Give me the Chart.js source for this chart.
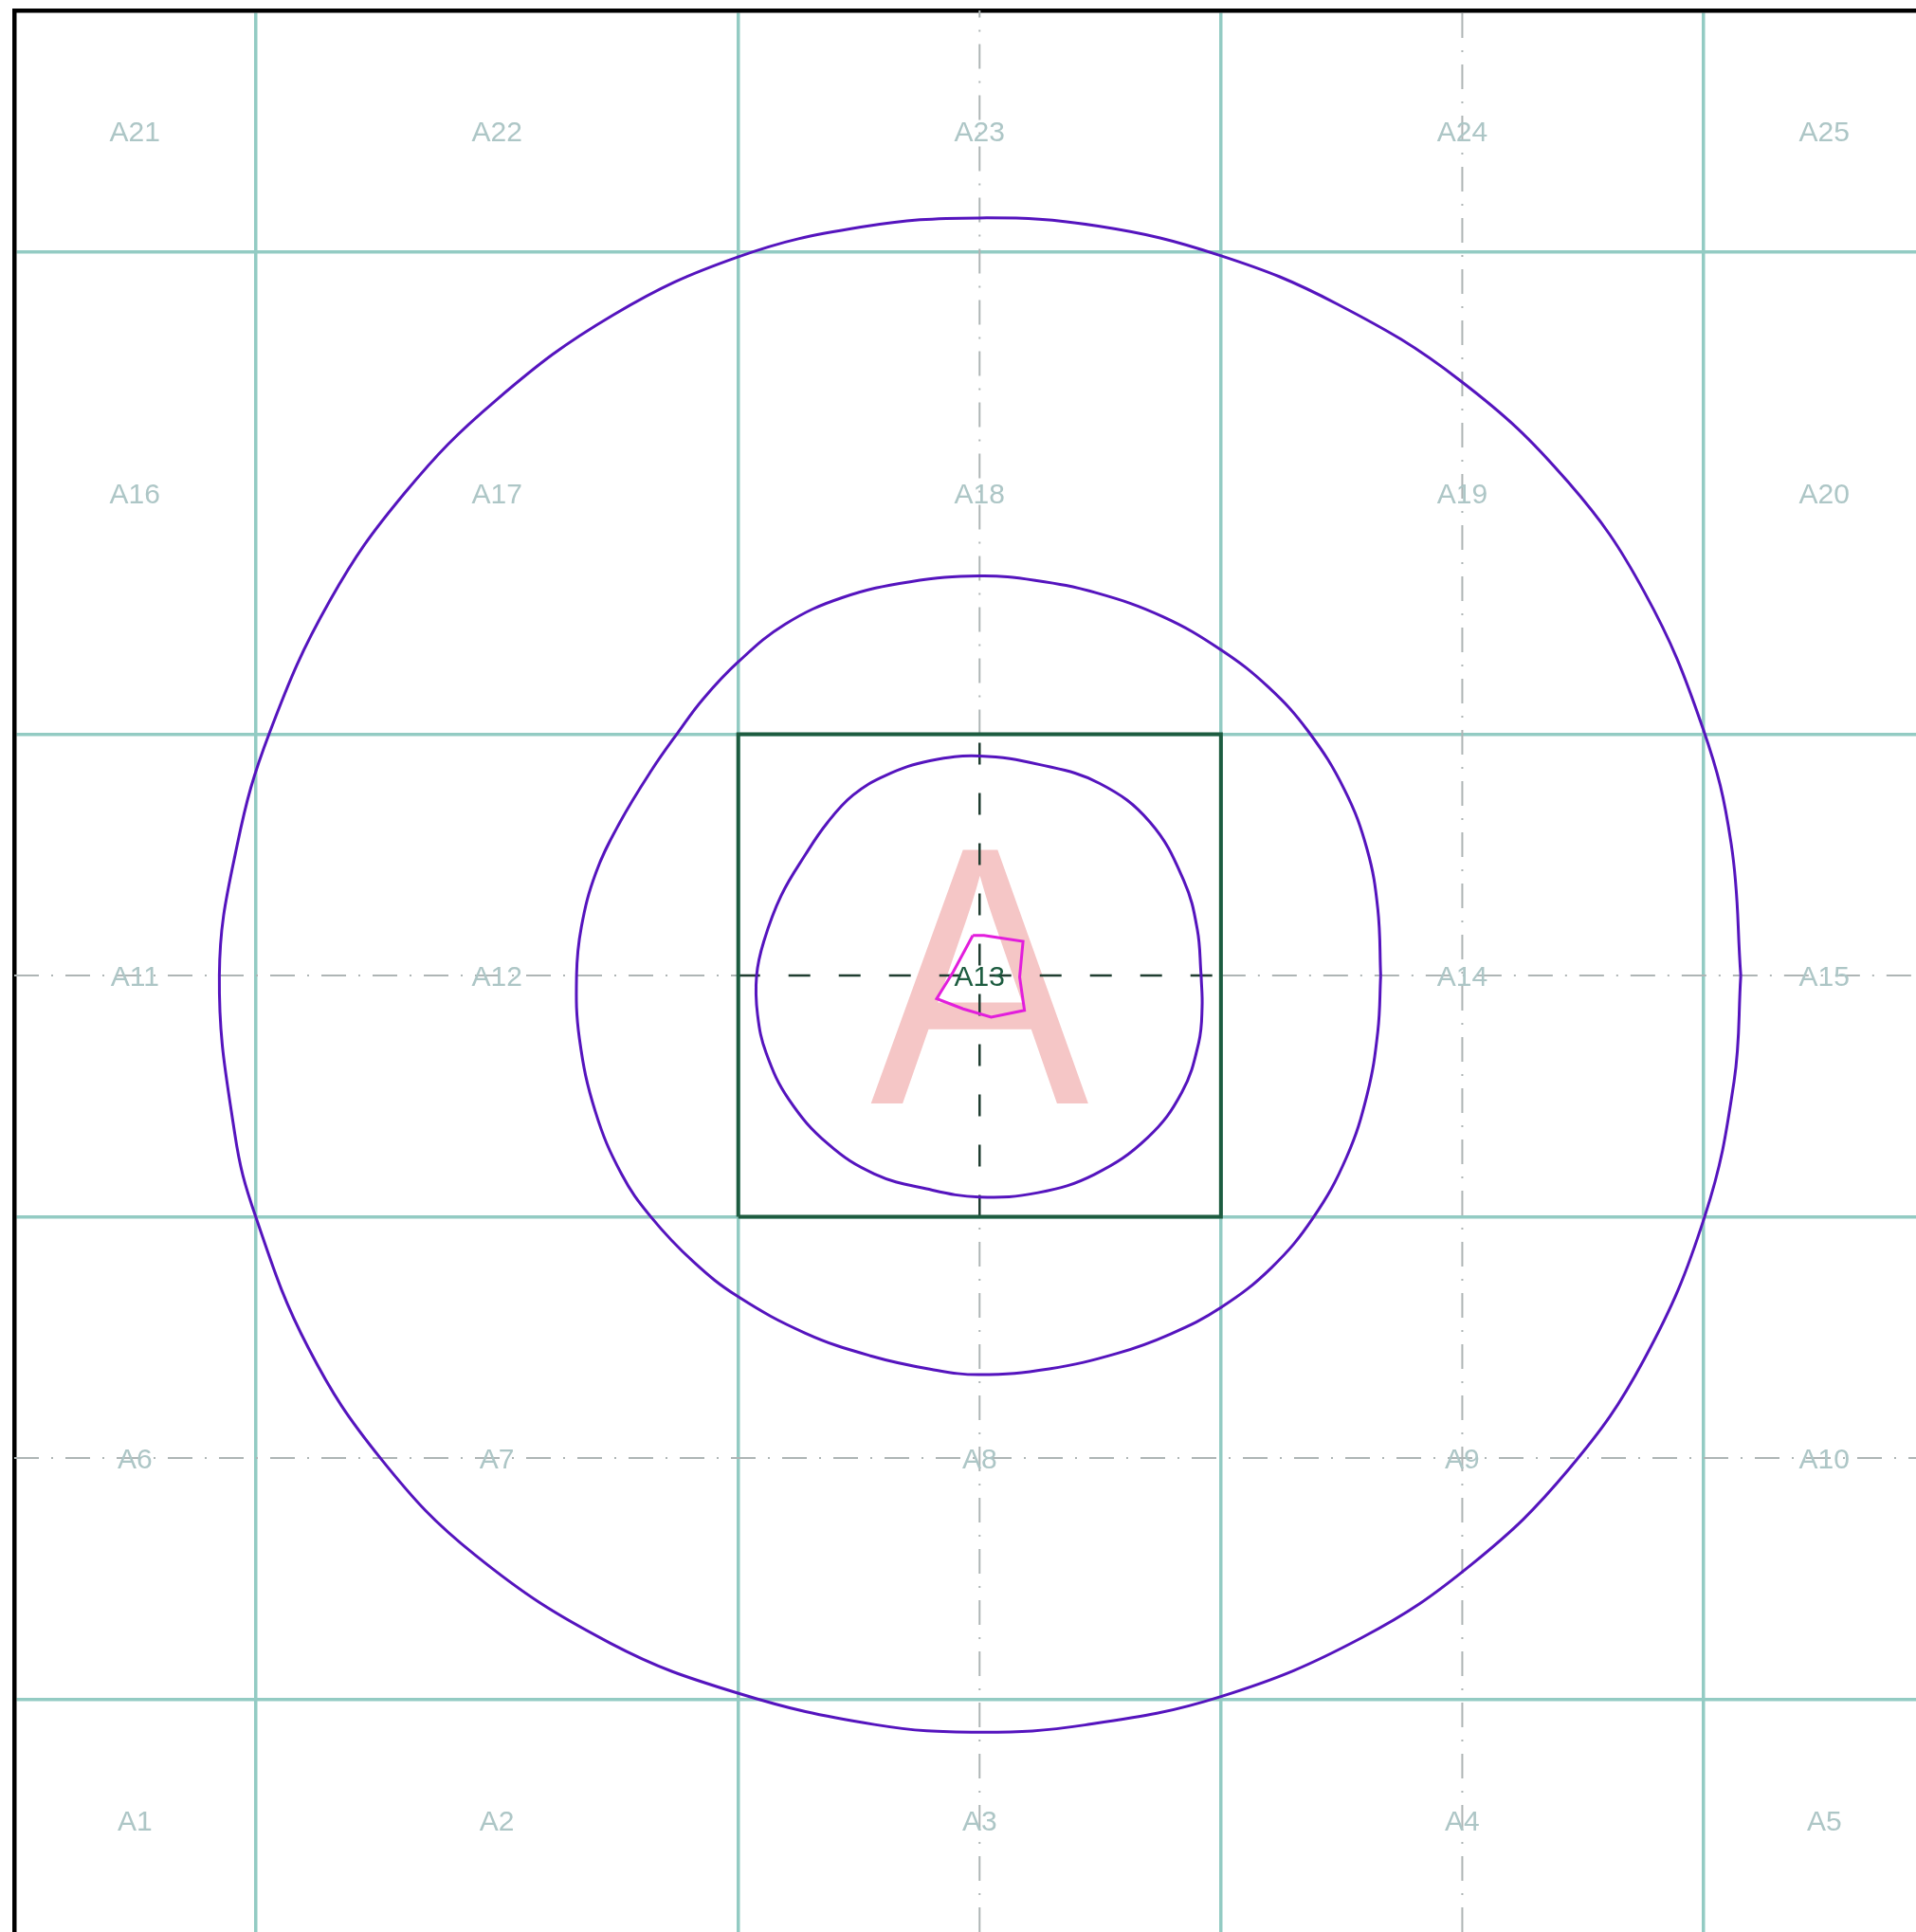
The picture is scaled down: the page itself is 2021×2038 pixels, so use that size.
<!DOCTYPE html>
<html>
<head>
<meta charset="utf-8">
<script src="https://cdn.jsdelivr.net/npm/chart.js@4.4.1/dist/chart.umd.min.js"></script>
<style>
  html, body { margin: 0; padding: 0; background: #fff; overflow: hidden; }
  #wrap { width: 2021px; height: 2038px; }
</style>
</head>
<body>
<div id="wrap"><canvas id="plan" width="2021" height="2038"></canvas></div>
<script>
// axis window (one unit = one cell), grid lines and dashed centre lines
const xRange = [-2.0, 1.94];
const yRange = [-1.982, 2.0];
const gridLines = [-1.5, -0.5, 0.5, 1.5];
const dashedCols = [0, 1];
const dashedRows = [0, -1];
const centreCell = [-0.5, 0.5];

// cell label positions, bottom row first
const labelCols = [-1.75, -1, 0, 1, 1.75];
const labelRows = [-1.75, -1, 0, 1, 1.75];
const highlightCell = 'A13';

// the big letter
const letterText = 'A';
const letterX = 0;
const letterBase = -0.265;
const letterTop = 0.262;
const letterWidth = 0.456;

// contours, going round anticlockwise from the right
const outerContour = [
  [1.577, 0], [1.557, 0.274], [1.499, 0.511], [1.377, 0.795], [1.219, 1.023],
  [0.997, 1.232], [0.740, 1.392], [0.499, 1.492], [0.246, 1.553], [0, 1.570],
  [-0.246, 1.551], [-0.501, 1.489], [-0.759, 1.369], [-1.001, 1.193], [-1.191, 1.000],
  [-1.346, 0.777], [-1.470, 0.506], [-1.538, 0.271], [-1.575, 0],
  [-1.543, -0.328], [-1.500, -0.499], [-1.391, -0.771], [-1.239, -1.003], [-1.045, -1.201],
  [-0.766, -1.383], [-0.501, -1.487], [-0.218, -1.552], [0, -1.568],
  [0.218, -1.553], [0.500, -1.494], [0.792, -1.372], [1.022, -1.218], [1.220, -1.024],
  [1.377, -0.795], [1.502, -0.500], [1.563, -0.220], [1.577, 0]
];
const middleContour = [
  [0.831, 0], [0.825, 0.138], [0.803, 0.261], [0.756, 0.385], [0.681, 0.506],
  [0.598, 0.598], [0.500, 0.675], [0.379, 0.744], [0.242, 0.793], [0.115, 0.819],
  [0, 0.828], [-0.144, 0.816], [-0.285, 0.783], [-0.403, 0.728], [-0.500, 0.650],
  [-0.573, 0.573], [-0.624, 0.505], [-0.680, 0.425], [-0.746, 0.316], [-0.795, 0.213],
  [-0.825, 0.101], [-0.835, 0], [-0.829, -0.131], [-0.796, -0.282], [-0.742, -0.411],
  [-0.681, -0.500], [-0.593, -0.593], [-0.501, -0.665], [-0.361, -0.741], [-0.226, -0.788],
  [-0.100, -0.816], [0, -0.827], [0.144, -0.815], [0.285, -0.783], [0.395, -0.743],
  [0.500, -0.688], [0.605, -0.605], [0.691, -0.502], [0.760, -0.377], [0.803, -0.246],
  [0.825, -0.116], [0.831, 0]
];
const innerContour = [
  [0.459, 0], [0.451, 0.096], [0.423, 0.197], [0.353, 0.318], [0.249, 0.398],
  [0.125, 0.437], [0, 0.455], [-0.103, 0.445], [-0.194, 0.415], [-0.262, 0.374],
  [-0.316, 0.316], [-0.360, 0.252], [-0.411, 0.166], [-0.447, 0.071], [-0.462, 0],
  [-0.460, -0.081], [-0.442, -0.161], [-0.395, -0.257], [-0.314, -0.349], [-0.218, -0.411],
  [-0.110, -0.442], [0, -0.459], [0.121, -0.450], [0.238, -0.412], [0.348, -0.336],
  [0.419, -0.242], [0.454, -0.139], [0.461, -0.065], [0.459, 0]
];
const peakOutline = [
  [-0.014, 0.083], [0.009, 0.083], [0.090, 0.071], [0.083, -0.003], [0.093, -0.072],
  [0.024, -0.086], [-0.034, -0.069], [-0.089, -0.048], [-0.055, 0.007], [-0.014, 0.083]
];

const toPts = arr => arr.map(([px, py]) => ({ x: px, y: py }));

const lineSet = (pts, color, width, extra) => Object.assign({
  data: pts,
  borderColor: color,
  borderWidth: width,
  pointRadius: 0,
  pointHoverRadius: 0,
  fill: false,
  tension: 0
}, extra || {});

// dashed centre lines, dark inside the centre cell, grey elsewhere
const greyDash = [];
const darkDash = [];
const [c0, c1] = centreCell;
dashedCols.forEach(c => {
  if (c > c0 && c < c1) {
    greyDash.push([{ x: c, y: yRange[0] }, { x: c, y: c0 }]);
    greyDash.push([{ x: c, y: c1 }, { x: c, y: yRange[1] }]);
    darkDash.push([{ x: c, y: c0 }, { x: c, y: c1 }]);
  } else {
    greyDash.push([{ x: c, y: yRange[0] }, { x: c, y: yRange[1] }]);
  }
});
dashedRows.forEach(r => {
  if (r > c0 && r < c1) {
    greyDash.push([{ x: xRange[0], y: r }, { x: c0, y: r }]);
    greyDash.push([{ x: c1, y: r }, { x: xRange[1], y: r }]);
    darkDash.push([{ x: c0, y: r }, { x: c1, y: r }]);
  } else {
    greyDash.push([{ x: xRange[0], y: r }, { x: xRange[1], y: r }]);
  }
});

const square = [[c0, c0], [c1, c0], [c1, c1], [c0, c1], [c0, c0]];

// top-most first: Chart.js paints the first dataset last
const datasets = [
  lineSet(toPts(peakOutline), '#e21edc', 3),
  lineSet(toPts(innerContour), '#5514be', 3, { tension: 0.4 }),
  lineSet(toPts(middleContour), '#5514be', 3, { tension: 0.4 }),
  lineSet(toPts(outerContour), '#5514be', 3, { tension: 0.4 }),
  lineSet(toPts(square), '#1d5c40', 4),
  ...darkDash.map(seg => lineSet(seg, '#1f3d30', 2.5, { borderDash: [23, 30] })),
  ...greyDash.map(seg => lineSet(seg, '#aeb5b5', 2, { borderDash: [26, 13, 2, 13] }))
];

const bigLetter = {
  id: 'bigLetter',
  beforeDatasetsDraw(chart) {
    const { ctx, scales: { x, y } } = chart;
    const base = y.getPixelForValue(letterBase);
    const top = y.getPixelForValue(letterTop);
    ctx.save();
    ctx.font = '100px "Liberation Sans", Arial, sans-serif';
    let m = ctx.measureText(letterText);
    const size = 100 * (base - top) / m.actualBoundingBoxAscent;
    ctx.font = size + 'px "Liberation Sans", Arial, sans-serif';
    m = ctx.measureText(letterText);
    const inkW = m.actualBoundingBoxLeft + m.actualBoundingBoxRight;
    const want = x.getPixelForValue(letterWidth) - x.getPixelForValue(0);
    ctx.translate(x.getPixelForValue(letterX), base);
    ctx.scale(want / inkW, 1);
    ctx.textAlign = 'center';
    ctx.textBaseline = 'alphabetic';
    ctx.fillStyle = '#f5c6c6';
    ctx.fillText(letterText, 0, 0);
    ctx.restore();
  }
};

const cellLabels = {
  id: 'cellLabels',
  afterDatasetsDraw(chart) {
    const { ctx, scales: { x, y } } = chart;
    ctx.save();
    ctx.font = '30px "Liberation Sans", Arial, sans-serif';
    ctx.textAlign = 'center';
    ctx.textBaseline = 'alphabetic';
    labelRows.forEach((rv, r) => {
      labelCols.forEach((cv, c) => {
        const name = 'A' + (r * labelCols.length + c + 1);
        ctx.fillStyle = name === highlightCell ? '#1d5c40' : '#adc6c6';
        ctx.fillText(name, x.getPixelForValue(cv), y.getPixelForValue(rv) + 10.7);
      });
    });
    ctx.restore();
  }
};

const axisCommon = {
  type: 'linear',
  afterBuildTicks: s => { s.ticks = gridLines.map(v => ({ value: v })); },
  ticks: { display: false },
  grid: { color: '#93cbc3', lineWidth: 3.5, drawTicks: false },
  border: { display: true, color: '#000', width: 4.5 }
};

new Chart(document.getElementById('plan'), {
  type: 'line',
  data: { datasets: datasets },
  options: {
    responsive: false,
    devicePixelRatio: 1,
    animation: false,
    layout: { padding: { left: 15, top: 11, right: 0, bottom: 0 } },
    plugins: { legend: { display: false }, tooltip: { enabled: false } },
    scales: {
      x: Object.assign({}, axisCommon, { position: 'top', min: xRange[0], max: xRange[1] }),
      y: Object.assign({}, axisCommon, { position: 'left', min: yRange[0], max: yRange[1] })
    }
  },
  plugins: [bigLetter, cellLabels]
});
</script>
</body>
</html>
